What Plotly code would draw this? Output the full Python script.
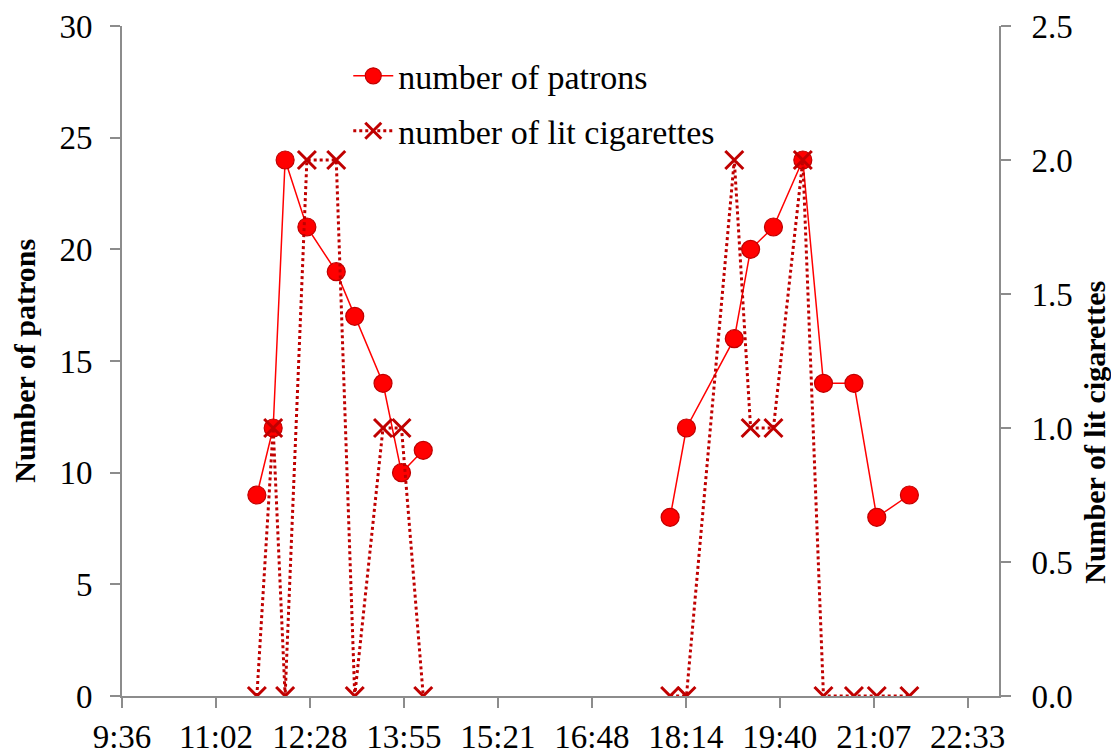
import plotly.graph_objects as go

# ---- data ----
times = ["11:40", "11:55", "12:06", "12:26", "12:53", "13:10", "13:36", "13:53", "14:13",
         "18:00", "18:15", "18:59", "19:14", "19:35", "20:02", "20:21", "20:49", "21:10", "21:40"]
patrons = [9, 12, 24, 21, 19, 17, 14, 10, 11,
           8, 12, 16, 20, 21, 24, 14, 14, 8, 9]
cigarettes = [0, 1, 0, 2, 2, 0, 1, 1, 0,
              0, 0, 2, 1, 1, 2, 0, 0, 0, 0]
# gap between the two observation sessions
gap_after = 9

day = "2000-01-01 "
x1 = [day + t for t in times[:gap_after]] + [None] + [day + t for t in times[gap_after:]]
p1 = patrons[:gap_after] + [None] + patrons[gap_after:]
c1 = cigarettes[:gap_after] + [None] + cigarettes[gap_after:]

FONT = "Liberation Serif"
AX = "#8c8c8c"

fig = go.Figure()
fig.add_trace(go.Scatter(
    x=x1, y=p1, name="number of patrons", mode="lines+markers",
    line=dict(color="#ff0000", width=1.5),
    marker=dict(symbol="circle", size=18, color="#ff0000",
                line=dict(color="#c00000", width=1.2)),
    connectgaps=False, legend="legend"))
fig.add_trace(go.Scatter(
    x=x1, y=c1, name="number of lit cigarettes", mode="lines+markers", yaxis="y2",
    line=dict(color="#c00000", width=3, dash="dot"),
    marker=dict(symbol="x-thin", size=18, color="#c00000",
                line=dict(color="#c00000", width=3)),
    connectgaps=False, legend="legend2"))

axis_common = dict(showgrid=False, zeroline=False, automargin=False,
                   showline=True, linecolor=AX, linewidth=2,
                   ticks="outside", ticklen=10, tickwidth=2, tickcolor=AX,
                   tickfont=dict(family=FONT, size=33, color="black"))

# page body has an 8px margin, so the figure is sized to fit the window
fig.update_layout(
    width=1111, height=746,
    margin=dict(l=114, r=120, t=18, b=58, autoexpand=False),
    paper_bgcolor="white", plot_bgcolor="white",
    font=dict(family=FONT, size=33, color="black"),
    showlegend=True,
    xaxis=dict(type="date",
               range=[day + "09:36", day + "23:02:24"],
               tick0=day + "09:36", dtick=86.4 * 60 * 1000,
               tickformat="%-H:%M", ticklabelstandoff=0, **axis_common),
    yaxis=dict(range=[0, 30], dtick=5, ticklabelstandoff=11, **axis_common),
    yaxis2=dict(range=[0, 2.5], dtick=0.5, tickformat=".1f", overlaying="y", side="right",
                ticklabelstandoff=14, **axis_common),
    legend=dict(x=0.258, y=0.925, xanchor="left", yanchor="middle",
                bgcolor="rgba(0,0,0,0)", itemwidth=40,
                font=dict(family=FONT, size=34, color="black")),
    legend2=dict(x=0.258, y=0.843, xanchor="left", yanchor="middle",
                 bgcolor="rgba(0,0,0,0)", itemwidth=40,
                 font=dict(family=FONT, size=34, color="black")),
    annotations=[
        dict(text="<b>Number of patrons</b>", xref="paper", yref="paper",
             x=-0.112, y=0.5, textangle=-90, showarrow=False,
             xanchor="center", yanchor="middle",
             font=dict(family=FONT, size=30, color="black")),
        dict(text="<b>Number of lit cigarettes</b>", xref="paper", yref="paper",
             x=1.108, y=0.394, textangle=-90, showarrow=False,
             xanchor="center", yanchor="middle",
             font=dict(family=FONT, size=30, color="black")),
    ],
)

fig.write_html("out.html")
